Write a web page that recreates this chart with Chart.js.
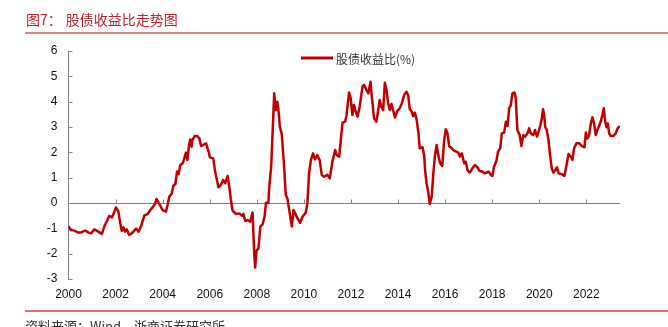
<!DOCTYPE html>
<html>
<head>
<meta charset="utf-8">
<script src="https://cdn.jsdelivr.net/npm/chart.js@4"></script>
<style>
    body { margin: 0; background: #fff; }
    #page { position: relative; width: 668px; height: 327px; overflow: hidden; }
    #chart { position: absolute; left: 0; top: 0; }
    .title { position: absolute; left: 26px; top: 12px; font: 14px/14px "Noto Sans CJK SC"; color: #B8242E; white-space: nowrap; }
    .title span { margin-left: 4px; }
    .rule { position: absolute; left: 25px; right: 0; height: 2px; }
    .source { position: absolute; left: 25px; top: 319px; font: 13px/13px "Noto Sans CJK SC"; color: #333; white-space: nowrap; }
</style>
</head>
<body>
<div id="page">
    <canvas id="chart" width="668" height="327"></canvas>
    <div class="title">图7：<span>股债收益比走势图</span></div>
    <div class="rule" style="top:32px; background:#E08585;"></div>
    <div class="rule" style="top:310px; background:#E07070;"></div>
    <div class="source">资料来源：Wind，浙商证券研究所</div>
</div>
<script>
// weekly-ish samples, x as fractional year
const dates = [
    2000.00, 2000.10, 2000.25, 2000.39, 2000.53, 2000.71, 2000.86, 2000.96, 2001.10, 2001.24,
    2001.42, 2001.52, 2001.62, 2001.73, 2001.85, 2001.92, 2002.02, 2002.12, 2002.20, 2002.26,
    2002.33, 2002.40, 2002.47, 2002.58, 2002.72, 2002.87, 2002.98, 2003.08, 2003.22, 2003.36,
    2003.50, 2003.60, 2003.69, 2003.74, 2003.83, 2004.00, 2004.14, 2004.21, 2004.28, 2004.39,
    2004.45, 2004.54, 2004.61, 2004.68, 2004.75, 2004.85, 2004.92, 2004.99, 2005.05, 2005.12,
    2005.17, 2005.23, 2005.27, 2005.36, 2005.47, 2005.56, 2005.63, 2005.72, 2005.84, 2005.95,
    2006.01, 2006.15, 2006.23, 2006.37, 2006.47, 2006.57, 2006.66, 2006.76, 2006.83, 2006.90,
    2006.97, 2007.11, 2007.26, 2007.37, 2007.43, 2007.51, 2007.61, 2007.72, 2007.82, 2007.89,
    2007.93, 2007.99, 2008.07, 2008.15, 2008.25, 2008.33, 2008.39, 2008.49, 2008.53, 2008.61,
    2008.67, 2008.74, 2008.81, 2008.87, 2008.92, 2008.98, 2009.06, 2009.16, 2009.23, 2009.30,
    2009.40, 2009.49, 2009.56, 2009.63, 2009.73, 2009.84, 2009.94, 2010.08, 2010.15, 2010.22,
    2010.30, 2010.39, 2010.47, 2010.57, 2010.67, 2010.76, 2010.86, 2011.00, 2011.10, 2011.21,
    2011.33, 2011.40, 2011.50, 2011.57, 2011.64, 2011.75, 2011.80, 2011.92, 2011.99, 2012.06,
    2012.13, 2012.20, 2012.28, 2012.37, 2012.49, 2012.56, 2012.66, 2012.74, 2012.83, 2012.88,
    2012.98, 2013.08, 2013.15, 2013.22, 2013.29, 2013.37, 2013.44, 2013.51, 2013.58, 2013.65,
    2013.72, 2013.78, 2013.87, 2013.97, 2014.07, 2014.16, 2014.26, 2014.36, 2014.43, 2014.50,
    2014.58, 2014.64, 2014.71, 2014.78, 2014.87, 2014.92, 2015.04, 2015.11, 2015.15, 2015.21,
    2015.28, 2015.35, 2015.43, 2015.50, 2015.57, 2015.64, 2015.71, 2015.79, 2015.88, 2015.96,
    2016.03, 2016.10, 2016.17, 2016.28, 2016.38, 2016.48, 2016.56, 2016.63, 2016.71, 2016.81,
    2016.88, 2016.95, 2017.05, 2017.16, 2017.27, 2017.37, 2017.47, 2017.58, 2017.70, 2017.84,
    2017.94, 2018.01, 2018.08, 2018.18, 2018.25, 2018.34, 2018.41, 2018.51, 2018.58, 2018.65,
    2018.72, 2018.79, 2018.86, 2018.95, 2019.00, 2019.07, 2019.17, 2019.24, 2019.32, 2019.40,
    2019.50, 2019.57, 2019.64, 2019.74, 2019.82, 2019.90, 2019.97, 2020.04, 2020.11, 2020.16,
    2020.21, 2020.25, 2020.32, 2020.39, 2020.46, 2020.53, 2020.60, 2020.67, 2020.75, 2020.82,
    2020.96, 2021.07, 2021.16, 2021.24, 2021.34, 2021.41, 2021.48, 2021.58, 2021.69, 2021.81,
    2021.92, 2021.98, 2022.05, 2022.12, 2022.19, 2022.26, 2022.33, 2022.40, 2022.47, 2022.54,
    2022.61, 2022.68, 2022.74, 2022.80, 2022.86, 2022.91, 2022.97, 2023.04, 2023.14, 2023.25,
    2023.33, 2023.42
];

// 股债收益比 (%)
const ratio = [
    -0.91, -1.07, -1.09, -1.16, -1.16, -1.09, -1.17, -1.20, -1.04, -1.12,
    -1.22, -0.93, -0.74, -0.51, -0.57, -0.41, -0.17, -0.34, -0.80, -1.10,
    -0.96, -1.13, -1.04, -1.26, -1.17, -1.01, -1.13, -0.93, -0.50, -0.43,
    -0.25, -0.14, -0.01, 0.16, 0.01, -0.28, -0.34, -0.08, 0.25, 0.38,
    0.67, 0.75, 1.24, 1.14, 1.50, 1.57, 1.76, 1.99, 1.70, 2.29,
    2.51, 2.22, 2.49, 2.64, 2.64, 2.55, 2.25, 2.29, 2.36, 2.03,
    1.80, 1.76, 1.24, 0.62, 0.71, 0.91, 0.78, 1.07, 0.64, 0.12,
    -0.30, -0.43, -0.41, -0.51, -0.43, -0.71, -0.67, -0.74, -0.38, -1.99,
    -2.55, -1.88, -1.79, -0.93, -0.83, -0.54, 0.01, 0.00, 0.64, 1.43,
    2.75, 4.33, 3.67, 4.00, 3.67, 3.01, 2.72, 1.43, 0.32, 0.18,
    -0.41, -0.93, -0.28, -0.41, -0.61, -0.78, -0.54, -0.38, 0.00, 1.17,
    1.70, 1.96, 1.72, 1.89, 1.70, 1.11, 1.04, 1.11, 0.97, 1.63,
    2.09, 1.89, 1.83, 2.49, 3.17, 3.21, 3.40, 4.36, 4.13, 3.47,
    3.87, 3.61, 3.41, 3.80, 4.59, 4.66, 4.46, 4.33, 4.79, 4.26,
    3.34, 3.21, 3.61, 4.07, 3.80, 3.67, 4.75, 4.46, 3.93, 3.67,
    3.91, 3.70, 3.38, 3.64, 3.74, 3.93, 4.26, 4.39, 4.26, 3.70,
    3.61, 3.43, 3.57, 3.34, 2.75, 2.16, 2.20, 1.89, 1.30, 0.78,
    0.45, -0.04, 0.25, 1.17, 1.89, 2.29, 1.89, 1.57, 1.46, 2.49,
    2.91, 2.75, 2.25, 2.16, 2.07, 2.03, 1.99, 1.83, 1.96, 1.57,
    1.63, 1.30, 1.20, 1.37, 1.50, 1.41, 1.26, 1.24, 1.17, 1.24,
    1.11, 1.07, 1.43, 1.67, 2.03, 2.16, 2.75, 2.78, 3.21, 3.04,
    3.74, 3.87, 4.33, 4.36, 4.13, 2.88, 2.68, 2.25, 2.68, 2.62,
    2.75, 2.95, 2.75, 2.68, 2.88, 2.62, 2.82, 3.04, 3.34, 3.70,
    3.47, 3.01, 2.88, 2.49, 1.89, 1.37, 1.20, 1.28, 1.41, 1.17,
    1.14, 1.07, 1.50, 1.93, 1.83, 1.70, 2.16, 2.36, 2.36, 2.25,
    2.20, 2.78, 2.55, 2.68, 3.14, 3.38, 3.14, 2.68, 2.88, 3.04,
    3.21, 3.47, 3.74, 3.21, 2.99, 3.14, 2.75, 2.64, 2.64, 2.75,
    2.95, 3.04
];

const xMin = 2000, xMax = 2023.43, yearStep = 2;
const yMin = -3, yMax = 6;

const axisGrey = '#808080';
const lineRed = '#C00000';

// zero line tick marks (pointing up) and inward y ticks
const axisMarks = {
    id: 'axisMarks',
    beforeDatasetsDraw(chart) {
        const { ctx, scales: { x, y } } = chart;
        const y0 = Math.round(y.getPixelForValue(0)) + 0.5;
        ctx.save();
        ctx.strokeStyle = axisGrey;
        ctx.lineWidth = 1;
        ctx.beginPath();
        x.ticks.forEach(t => {
            if (t.value === xMin) return;
            const px = Math.round(x.getPixelForValue(t.value)) + 0.5;
            ctx.moveTo(px, y0);
            ctx.lineTo(px, y0 - 4);
        });
        y.ticks.forEach(t => {
            const py = Math.round(y.getPixelForValue(t.value)) + 0.5;
            ctx.moveTo(y.right, py);
            ctx.lineTo(y.right + 4, py);
        });
        ctx.stroke();
        ctx.restore();
    }
};

// legend drawn inside the plot, top centre
const innerLegend = {
    id: 'innerLegend',
    afterDraw(chart) {
        const ds = chart.data.datasets[0];
        const ctx = chart.ctx;
        ctx.save();
        ctx.strokeStyle = ds.borderColor;
        ctx.lineWidth = 3;
        ctx.beginPath();
        ctx.moveTo(301, 58);
        ctx.lineTo(333, 58);
        ctx.stroke();
        ctx.fillStyle = '#333';
        ctx.font = '12px "Noto Sans CJK SC"';
        ctx.textBaseline = 'middle';
        ctx.fillText(ds.label, 336, 59);
        ctx.restore();
    }
};

new Chart(document.getElementById('chart'), {
    type: 'line',
    data: {
        datasets: [{
            label: '股债收益比(%)',
            data: dates.map((d, i) => ({ x: d, y: ratio[i] })),
            borderColor: lineRed,
            borderWidth: 2.5,
            borderJoinStyle: 'round',
            pointRadius: 0,
            tension: 0,
            fill: false
        }]
    },
    options: {
        responsive: false,
        animation: false,
        devicePixelRatio: 1,
        layout: { padding: { left: 28.5, top: 51, right: 48, bottom: 0 } },
        plugins: {
            legend: { display: false },
            tooltip: { enabled: false }
        },
        scales: {
            x: {
                type: 'linear',
                min: xMin,
                max: xMax,
                afterFit: s => { s.height = 48; },
                border: { display: false },
                grid: { display: false, drawTicks: false },
                ticks: {
                    stepSize: yearStep,
                    includeBounds: false,
                    padding: 8,
                    maxRotation: 0,
                    color: '#111',
                    font: { family: '"Liberation Sans", Arial, sans-serif', size: 12 },
                    callback: v => String(v)
                }
            },
            y: {
                min: yMin,
                max: yMax,
                afterFit: s => { s.width = 40; },
                border: { display: true, color: axisGrey, width: 1 },
                grid: {
                    drawTicks: false,
                    color: c => (c.tick && c.tick.value === 0) ? axisGrey : 'rgba(0,0,0,0)'
                },
                ticks: {
                    stepSize: 1,
                    padding: 11,
                    color: '#111',
                    font: { family: '"Liberation Sans", Arial, sans-serif', size: 12 }
                }
            }
        }
    },
    plugins: [axisMarks, innerLegend]
});
</script>
</body>
</html>
